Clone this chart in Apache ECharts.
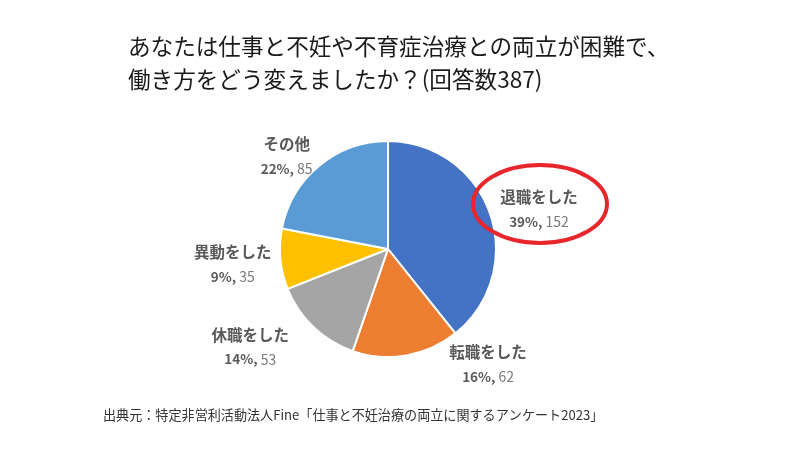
<!DOCTYPE html>
<html lang="ja">
<head>
    <meta charset="UTF-8">
    <title>働き方の変化</title>
    <script src="https://cdn.jsdelivr.net/npm/echarts@6/dist/echarts.min.js"></script>
    <style>
        html, body { margin: 0; padding: 0; background: #fff; }
    </style>
</head>
<body>
    <div id="main" style="width: 800px; height: 450px"></div>
    <script>
        var chart = echarts.init(document.getElementById("main"))

        // 回答の区分(時計回り、12時の位置から)
        var categories = ['退職をした', '転職をした', '休職をした', '異動をした', 'その他']
        var counts = [152, 62, 53, 35, 85]
        var colors = ['#4472C4', '#ED7D31', '#A5A5A5', '#FFC000', '#5B9BD5']
        // ラベルの微調整 (px)
        var labelShift = [[-6, 0], [36, -3], [-11, 11], [8, 4], [6, 0]]

        var pieData = categories.map(function (name, i) {
            return { name: name, value: counts[i], itemStyle: { color: colors[i] } }
        })

        var font = '"Noto Sans CJK JP", "Noto Sans", sans-serif'

        var option = {
            backgroundColor: '#fff',
            graphic: [
                {
                    type: 'text', left: 128, top: 30,
                    style: {
                        text: 'あなたは仕事と不妊や不育症治療との両立が困難で、\n働き方をどう変えましたか？(回答数387)',
                        font: '22.6px ' + font, fill: '#1a1a1a', lineHeight: 33
                    }
                },
                {
                    type: 'text', left: 103, top: 408,
                    style: {
                        text: '出典元：特定非営利活動法人Fine「仕事と不妊治療の両立に関するアンケート2023」',
                        font: '13.1px ' + font, fill: '#333'
                    }
                },
                {
                    type: 'ellipse', shape: { cx: 540, cy: 204, rx: 67, ry: 39 },
                    style: { fill: 'none', stroke: '#E8262B', lineWidth: 4 }, z: 10
                }
            ],
            series: [{
                type: 'pie',
                center: [388, 249],
                radius: '48%',
                startAngle: 90,
                clockwise: true,
                itemStyle: { borderColor: '#fff', borderWidth: 2 },
                label: {
                    show: true,
                    position: 'outside',
                    formatter: function (p) {
                        return '{n|' + p.name + '}\n{p|' + Math.round(p.percent) + '%, }{v|' + p.value + '}'
                    },
                    rich: {
                        n: { fontFamily: font, fontSize: 15.5, fontWeight: 'bold', color: '#595959', lineHeight: 25, align: 'center' },
                        p: { fontFamily: font, fontSize: 13.5, fontWeight: 'bold', color: '#595959', lineHeight: 24, align: 'center' },
                        v: { fontFamily: font, fontSize: 14, color: '#7a7a7a', lineHeight: 24, align: 'center' }
                    }
                },
                labelLine: { show: false, length: 12, length2: 0 },
                labelLayout: function (params) {
                    var s = labelShift[params.dataIndex]
                    return { dx: s[0], dy: s[1] }
                },
                data: pieData
            }]
        }

        chart.setOption(option)
    </script>
</body>
</html>
